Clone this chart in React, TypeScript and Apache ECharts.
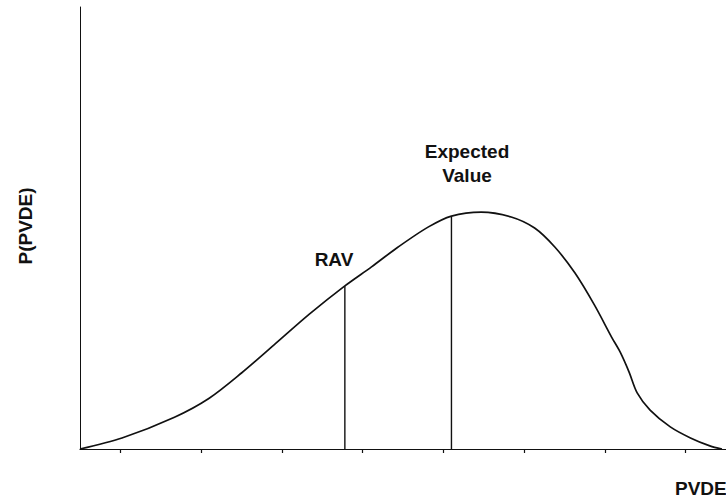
import React, { useEffect, useRef } from "react";
import * as echarts from "echarts";

// PVDE values along the x axis (axis spans 0..8)
const curveX = [0, 0.52, 1.17, 1.6, 2.0, 2.4, 2.84, 3.28, 3.61, 3.94, 4.31, 4.6, 4.97, 5.34, 5.63, 5.88, 6.13, 6.37, 6.59, 6.69, 6.8, 6.9, 7.06, 7.31, 7.56, 7.8, 7.95];
// P(PVDE) values (axis spans 0..100)
const curveY = [0, 2.5, 7.2, 11.5, 17.2, 23.5, 30.5, 36.9, 41.2, 45.7, 50.2, 52.7, 53.6, 52.5, 50.0, 45.7, 39.8, 32.6, 25.1, 21.9, 17.4, 12.7, 8.8, 5.0, 2.5, 0.7, 0];
const xTicks = [0.5, 1.5, 2.5, 3.5, 4.5, 5.5, 6.5, 7.5];
const ravX = 3.28;
const ravY = 36.9;
const evX = 4.6;
const evY = 52.7;
const labels = { rav: "RAV", ev1: "Expected", ev2: "Value", xName: "PVDE", yName: "P(PVDE)" };

const FONT = '"Liberation Sans", Arial, Helvetica, sans-serif';
const INK = "#111";

export default function App() {
  const ref = useRef<HTMLDivElement>(null);
  useEffect(() => {
    if (!ref.current) return;
    const chart = echarts.init(ref.current, undefined, { renderer: "svg" });
    const curve = curveX.map((x, i) => [x, curveY[i]]);
    const textStyle = (extra: any) => ({
      fontFamily: FONT,
      fontSize: 19,
      fontWeight: "bold",
      fill: INK,
      ...extra,
    });
    chart.setOption({
      animation: false,
      backgroundColor: "#fff",
      grid: { left: 80, right: -3, top: 7, bottom: 49, containLabel: false },
      xAxis: {
        type: "value",
        min: 0,
        max: 8,
        axisLine: { show: true, onZero: false, lineStyle: { color: INK, width: 1.2 } },
        axisTick: { show: true, inside: false, length: 4, customValues: xTicks, lineStyle: { color: INK, width: 1.2 } },
        axisLabel: { show: false },
        splitLine: { show: false },
      },
      yAxis: {
        type: "value",
        min: 0,
        max: 100,
        axisLine: { show: true, lineStyle: { color: INK, width: 1 } },
        axisTick: { show: false },
        axisLabel: { show: false },
        splitLine: { show: false },
      },
      series: [
        {
          type: "line",
          data: curve,
          smooth: 0.3,
          showSymbol: false,
          symbol: "none",
          lineStyle: { color: INK, width: 1.7 },
          z: 3,
        },
        {
          type: "line",
          data: [[ravX, 0], [ravX, ravY]],
          showSymbol: false,
          symbol: "none",
          lineStyle: { color: INK, width: 1.4 },
        },
        {
          type: "line",
          data: [[evX, 0], [evX, evY]],
          showSymbol: false,
          symbol: "none",
          lineStyle: { color: INK, width: 1.4 },
        },
      ],
      graphic: [
        { type: "text", x: 334, y: 259, style: textStyle({ text: labels.rav, align: "center", verticalAlign: "middle" }) },
        { type: "text", x: 467, y: 151, style: textStyle({ text: labels.ev1, align: "center", verticalAlign: "middle" }) },
        { type: "text", x: 467, y: 175, style: textStyle({ text: labels.ev2, align: "center", verticalAlign: "middle" }) },
        { type: "text", x: 675, y: 488, style: textStyle({ text: labels.xName, align: "left", verticalAlign: "middle" }) },
        { type: "text", x: 25, y: 226, rotation: Math.PI / 2, style: textStyle({ text: labels.yName, align: "center", verticalAlign: "middle" }) },
      ],
    });
    return () => chart.dispose();
  }, []);
  return <div ref={ref} style={{ position: "absolute", left: 0, top: 0, width: 726, height: 498 }} />;
}
